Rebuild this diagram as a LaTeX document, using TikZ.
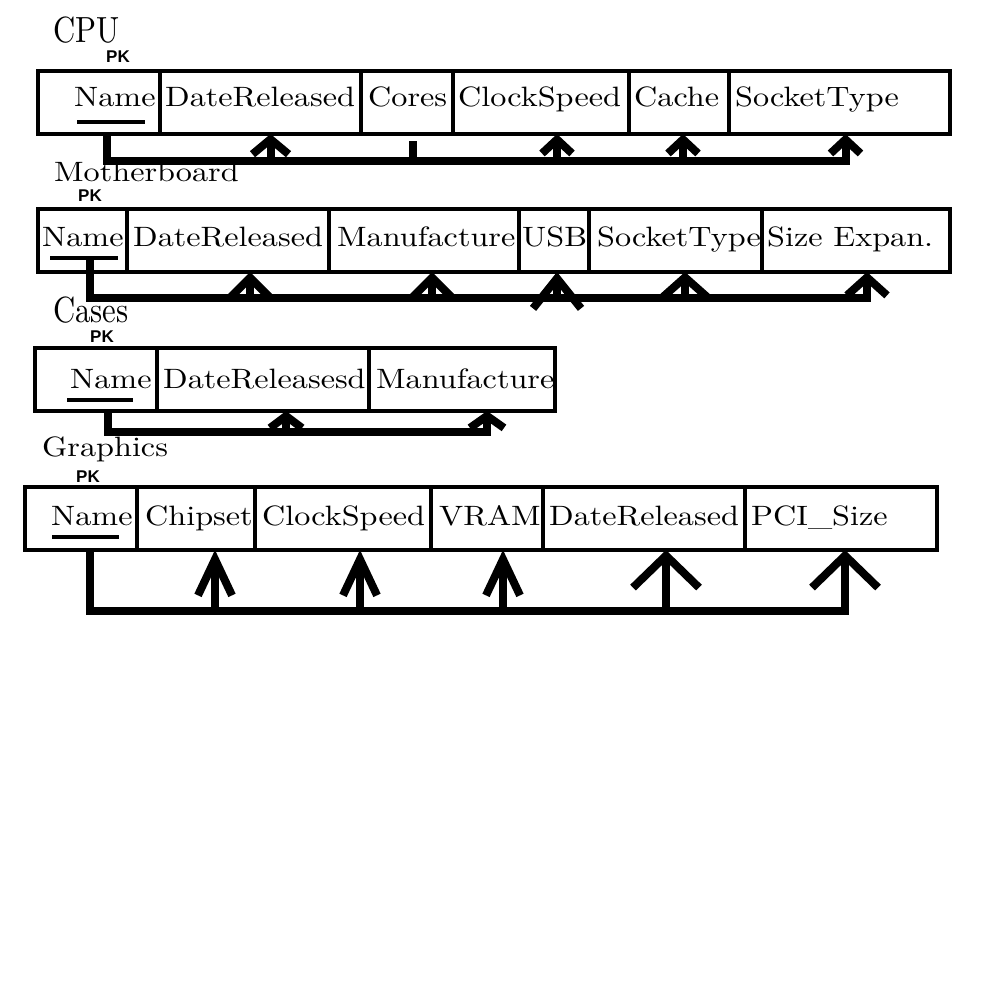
\documentclass[tikz,border=0pt]{standalone}
\usepackage{fontspec}
\usepackage{graphicx}
\usetikzlibrary{arrows.meta}
\setmainfont{lmroman10-regular.otf}
\newfontfamily\pkfont{Liberation Sans}[BoldFont={Liberation Sans Bold}]
\newcommand\ctext[1]{\scalebox{1.15}[1]{#1}}
\newcommand\ttext[1]{\scalebox{1.1}[1.3]{#1}}
\tikzset{
  cellbox/.style={draw, line width=4.5pt, inner sep=0pt, outer sep=0pt, anchor=north west, minimum height=63pt},
  txt/.style={anchor=base west, inner sep=0pt, font=\fontsize{28}{30}\selectfont},
  pklabel/.style={anchor=base west, inner sep=0pt, font=\pkfont\bfseries\fontsize{17}{18}\selectfont},
  uline/.style={line width=3.5pt},
  bus/.style={line width=8pt},
  fkarrow/.style 2 args={-{Straight Barb[length=#1pt,width=#2pt]}}
}
\begin{document}
\begin{tikzpicture}[x=1pt,y=-1pt]
\fill[white] (0,0) rectangle (1000,1000);
\useasboundingbox (0,0) rectangle (1000,1000);

% ---------------- CPU ----------------
\node[txt] (cpu-title) at (53,43) {\ttext{CPU}};
\node[pklabel] (cpu-pk) at (106,63) {PK};
\node[cellbox, minimum width=122pt] (cpu-name) at (38,71) {};
\node[cellbox, minimum width=201pt] (cpu-date) at (160,71) {};
\node[cellbox, minimum width=92pt] (cpu-cores) at (361,71) {};
\node[cellbox, minimum width=176pt] (cpu-clock) at (453,71) {};
\node[cellbox, minimum width=100pt] (cpu-cache) at (629,71) {};
\node[cellbox, minimum width=221pt] (cpu-sock) at (729,71) {};
\node[txt] (cpu-name-t) at (74,107) {\ctext{Name}};
\node[txt] (cpu-date-t) at (165,107) {\ctext{DateReleased}};
\node[txt] (cpu-cores-t) at (368,107) {\ctext{Cores}};
\node[txt] (cpu-clock-t) at (458,107) {\ctext{ClockSpeed}};
\node[txt] (cpu-cache-t) at (634,107) {\ctext{Cache}};
\node[txt] (cpu-sock-t) at (735,107) {\ctext{SocketType}};
\draw[uline] (77,122) -- (145,122);
\draw[bus,fkarrow={14}{30}] ([xshift=8pt]cpu-name.south) -- ++(0,27) -| ([xshift=6pt]cpu-sock.south);
\draw[bus,fkarrow={15}{36}] ([xshift=10pt]cpu-date.south) ++(0,27) -- +(0,-27);
\draw[bus] ([xshift=6pt]cpu-cores.south) ++(0,27) -- +(0,-20);
\draw[bus,fkarrow={14}{30}] ([xshift=16pt]cpu-clock.south) ++(0,27) -- +(0,-27);
\draw[bus,fkarrow={14}{30}] ([xshift=4pt]cpu-cache.south) ++(0,27) -- +(0,-27);

% ---------------- Motherboard ----------------
\node[txt] (mb-title) at (54,182) {\ctext{Motherboard}};
\node[pklabel] (mb-pk) at (78,202) {PK};
\node[cellbox, minimum width=89pt] (mb-name) at (38,209) {};
\node[cellbox, minimum width=202pt] (mb-date) at (127,209) {};
\node[cellbox, minimum width=190pt] (mb-manu) at (329,209) {};
\node[cellbox, minimum width=70pt] (mb-usb) at (519,209) {};
\node[cellbox, minimum width=173pt] (mb-sock) at (589,209) {};
\node[cellbox, minimum width=188pt] (mb-size) at (762,209) {};
\node[txt] (mb-name-t) at (42,247) {\ctext{Name}};
\node[txt] (mb-date-t) at (133,247) {\ctext{DateReleased}};
\node[txt] (mb-manu-t) at (337,247) {\ctext{Manufacture}};
\node[txt] (mb-usb-t) at (522,247) {\ctext{USB}};
\node[txt] (mb-sock-t) at (597,247) {\ctext{SocketType}};
\node[txt] (mb-size-t) at (767,247) {\ctext{Size Expan.}};
\draw[uline] (50,258) -- (118,258);
\draw[bus,fkarrow={18}{40}] ([xshift=7.5pt,yshift=12pt]mb-name.south) -- ++(0,38) -| ([xshift=11pt]mb-size.south);
\draw[bus,fkarrow={20}{40}] ([xshift=22pt]mb-date.south) ++(0,26) -- +(0,-26);
\draw[bus,fkarrow={20}{40}] ([xshift=8pt]mb-manu.south) ++(0,26) -- +(0,-26);
\draw[bus,fkarrow={30}{48}] ([xshift=3pt]mb-usb.south) ++(0,26) -- +(0,-26);
\draw[bus,fkarrow={20}{45}] ([xshift=9.5pt]mb-sock.south) ++(0,26) -- +(0,-26);

% ---------------- Cases ----------------
\node[txt] (cs-title) at (53,322) {\ttext{Cases}};
\node[pklabel] (cs-pk) at (90,342) {PK};
\node[cellbox, minimum width=122pt] (cs-name) at (35,348) {};
\node[cellbox, minimum width=212pt] (cs-date) at (157,348) {};
\node[cellbox, minimum width=186pt] (cs-manu) at (369,348) {};
\node[txt] (cs-name-t) at (70,388) {\ctext{Name}};
\node[txt] (cs-date-t) at (163,388) {\ctext{DateReleasesd}};
\node[txt] (cs-manu-t) at (376,388) {\ctext{Manufacture}};
\draw[uline] (67,400) -- (133,400);
\draw[bus,fkarrow={12}{34}] ([xshift=12pt]cs-name.south) -- ++(0,21) -| ([xshift=25pt]cs-manu.south);
\draw[bus,fkarrow={12}{32}] ([xshift=23pt]cs-date.south) ++(0,21) -- +(0,-21);

% ---------------- Graphics ----------------
\node[txt] (gr-title) at (42,456) {\ctext{Graphics}};
\node[pklabel] (gr-pk) at (76,482) {PK};
\node[cellbox, minimum width=112pt] (gr-name) at (25,487) {};
\node[cellbox, minimum width=118pt] (gr-chip) at (137,487) {};
\node[cellbox, minimum width=176pt] (gr-clock) at (255,487) {};
\node[cellbox, minimum width=112pt] (gr-vram) at (431,487) {};
\node[cellbox, minimum width=202pt] (gr-date) at (543,487) {};
\node[cellbox, minimum width=192pt] (gr-pci) at (745,487) {};
\node[txt] (gr-name-t) at (51,525) {\ctext{Name}};
\node[txt] (gr-chip-t) at (145,525) {\ctext{Chipset}};
\node[txt] (gr-clock-t) at (262,525) {\ctext{ClockSpeed}};
\node[txt] (gr-vram-t) at (439,525) {\ctext{VRAM}};
\node[txt] (gr-date-t) at (549,525) {\ctext{DateReleased}};
\node[txt] (gr-pci-t) at (751,525) {\ctext{PCI\_Size}};
\draw[uline] (52,537) -- (119,537);
\draw[bus,fkarrow={32}{66}] ([xshift=9pt]gr-name.south) -- ++(0,61) -| ([xshift=4pt]gr-pci.south);
\draw[bus,fkarrow={36}{34}] ([xshift=19pt]gr-chip.south) ++(0,61) -- +(0,-61);
\draw[bus,fkarrow={36}{34}] ([xshift=17pt]gr-clock.south) ++(0,61) -- +(0,-61);
\draw[bus,fkarrow={36}{34}] ([xshift=16pt]gr-vram.south) ++(0,61) -- +(0,-61);
\draw[bus,fkarrow={32}{66}] ([xshift=22pt]gr-date.south) ++(0,61) -- +(0,-61);
\end{tikzpicture}
\end{document}
